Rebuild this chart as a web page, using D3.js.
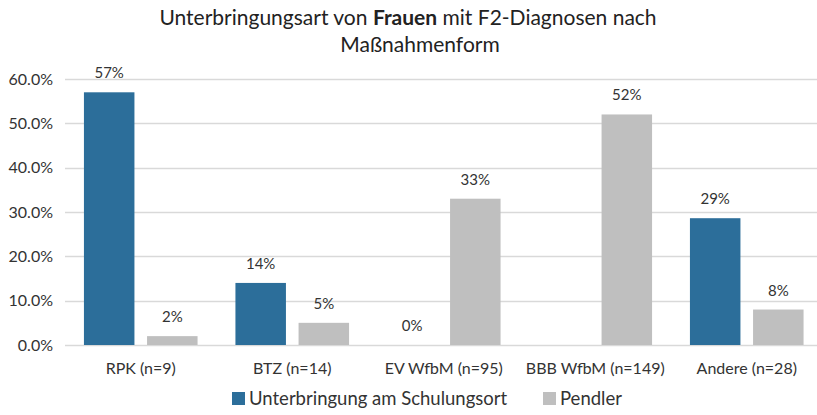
<!DOCTYPE html>
<html>
<head>
<meta charset="utf-8">
<script src="https://cdnjs.cloudflare.com/ajax/libs/d3/7.8.5/d3.min.js"></script>
<style>
  body { margin: 0; background: #fff; }
  svg { font-family: Lato, "Open Sans", sans-serif; }
</style>
</head>
<body>
<div id="chart"></div>
<script>
// chart data
var categories = ["RPK (n=9)", "BTZ (n=14)", "EV WfbM (n=95)", "BBB WfbM (n=149)", "Andere (n=28)"];
var seriesNames = ["Unterbringung am Schulungsort", "Pendler"];
var schulungsort = [0.57, 0.14, 0, null, 0.286];
var pendler = [0.02, 0.05, 0.33, 0.52, 0.08];
var yTicks = [0, 0.1, 0.2, 0.3, 0.4, 0.5, 0.6];
var colors = ["#2c6e9a", "#bfbfbf"];

var width = 817, height = 415;
var margin = {top: 79, left: 65, bottom: 70};

var svg = d3.select("#chart").append("svg")
    .attr("width", width)
    .attr("height", height);

// title
var title = svg.append("text")
    .attr("x", 408)
    .attr("y", 25)
    .attr("text-anchor", "middle")
    .style("font-size", "21px")
    .style("fill", "#222");
title.append("tspan").text("Unterbringungsart von ");
title.append("tspan").style("font-weight", "bold").text("Frauen");
title.append("tspan").text(" mit F2-Diagnosen nach");

svg.append("text")
    .attr("x", 420)
    .attr("y", 52)
    .attr("text-anchor", "middle")
    .style("font-size", "21px")
    .style("fill", "#222")
    .text("Maßnahmenform");

// scales
var x0 = d3.scaleBand()
    .domain(categories)
    .range([margin.left, margin.left + 5 * 151.5]);

var x1 = d3.scaleBand()
    .domain(seriesNames)
    .range([0, x0.bandwidth()])
    .paddingInner(0.2)
    .paddingOuter(0.3);

var y = d3.scaleLinear()
    .domain([0, 0.6])
    .range([345, margin.top]);

// gridlines
svg.append("g")
    .selectAll("line")
    .data(yTicks)
    .enter().append("line")
    .attr("x1", margin.left)
    .attr("x2", width)
    .attr("y1", function(d) { return Math.round(y(d)) + 0.5; })
    .attr("y2", function(d) { return Math.round(y(d)) + 0.5; })
    .style("stroke", "#d9d9d9")
    .style("stroke-width", 1.5);

// y axis labels
var yAxis = d3.axisLeft(y)
    .tickValues(yTicks)
    .tickFormat(d3.format(".1%"))
    .tickSize(0)
    .tickPadding(12);

svg.append("g")
    .attr("class", "y_axis")
    .attr("transform", "translate(" + margin.left + ",0)")
    .call(yAxis)
    .call(function(g) { g.select(".domain").remove(); })
    .selectAll("text")
    .style("font-size", "16px")
    .style("font-family", "Lato, sans-serif")
    .style("fill", "#333");

// x axis labels
var xAxis = d3.axisBottom(x0)
    .tickSize(0)
    .tickPadding(18);

svg.append("g")
    .attr("class", "x_axis")
    .attr("transform", "translate(0,345)")
    .call(xAxis)
    .call(function(g) { g.select(".domain").remove(); })
    .selectAll("text")
    .style("font-size", "16px")
    .style("font-family", "Lato, sans-serif")
    .style("fill", "#333");

// bars
var rows = categories.map(function(c, i) {
    return [
        {cat: c, series: seriesNames[0], value: schulungsort[i]},
        {cat: c, series: seriesNames[1], value: pendler[i]}
    ];
});

var groups = svg.append("g")
    .selectAll("g")
    .data(rows)
    .enter().append("g")
    .attr("transform", function(d) { return "translate(" + x0(d[0].cat) + ",0)"; });

var cells = groups.selectAll(".bar")
    .data(function(d) { return d.filter(function(v) { return v.value !== null; }); })
    .enter();

cells.append("rect")
    .attr("class", "bar")
    .attr("x", function(d) { return x1(d.series); })
    .attr("width", x1.bandwidth())
    .attr("y", function(d) { return y(d.value); })
    .attr("height", function(d) { return y(0) - y(d.value); })
    .style("fill", function(d) { return colors[seriesNames.indexOf(d.series)]; });

// value labels
cells.append("text")
    .attr("x", function(d) { return x1(d.series) + x1.bandwidth() / 2; })
    .attr("y", function(d) { return y(d.value) - 14; })
    .attr("text-anchor", "middle")
    .style("font-size", "15px")
    .style("fill", "#333")
    .text(function(d) { return d3.format(".0%")(d.value); });

// legend
var legendX = [232, 543];
var legend = svg.append("g")
    .selectAll("g")
    .data(seriesNames)
    .enter().append("g")
    .attr("transform", function(d, i) { return "translate(" + legendX[i] + ",392)"; });

legend.append("rect")
    .attr("width", 13)
    .attr("height", 13)
    .style("fill", function(d, i) { return colors[i]; });

legend.append("text")
    .attr("x", 17)
    .attr("y", 13)
    .style("font-size", "18.5px")
    .style("fill", "#333")
    .text(function(d) { return d; });
</script>
</body>
</html>
